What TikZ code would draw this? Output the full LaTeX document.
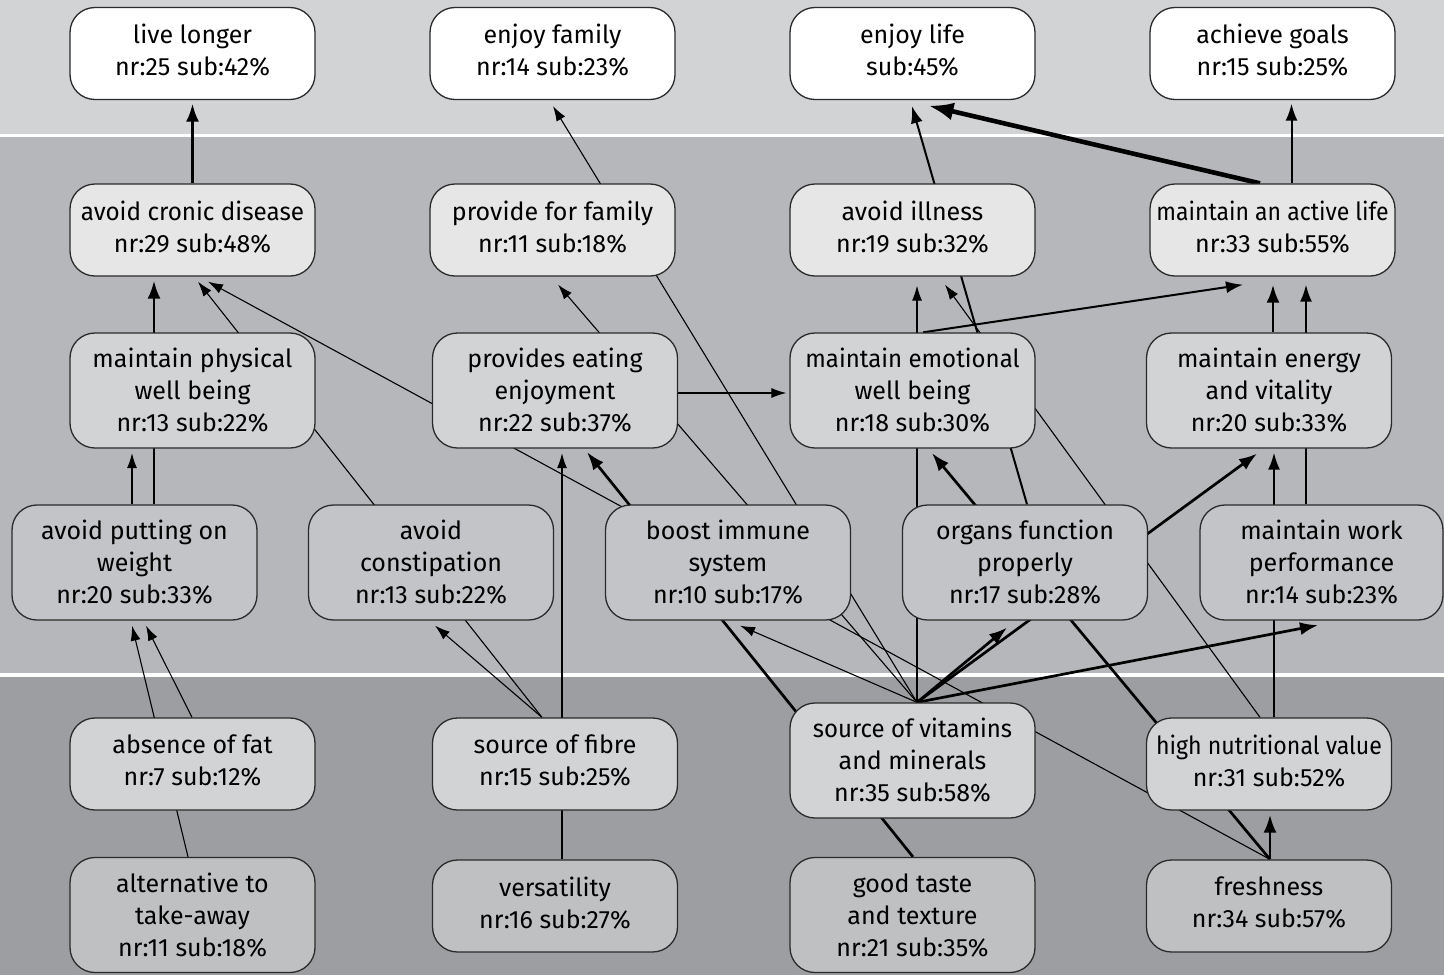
\documentclass[tikz,border=0pt]{standalone}
\usepackage{fontspec}
\setmainfont{Fira Sans}
\usetikzlibrary{arrows.meta,calc}
\definecolor{topband}{HTML}{D2D3D5}
\definecolor{midband}{HTML}{B6B7BA}
\definecolor{botband}{HTML}{9D9EA1}
\definecolor{fillA}{HTML}{FFFFFF}
\definecolor{fillB}{HTML}{E6E6E7}
\definecolor{fillC}{HTML}{D2D3D5}
\definecolor{fillD}{HTML}{C3C4C7}
\definecolor{fillE}{HTML}{D2D3D5}
\definecolor{fillF}{HTML}{BFC0C2}
\definecolor{boxline}{HTML}{2A2A2A}
\pgfdeclarelayer{edges}
\pgfsetlayers{edges,main}
\newcommand{\narrow}[2]{\scalebox{#1}[1]{#2}}
\tikzset{
  box/.style={draw=boxline, line width=0.65pt, rounded corners=12.5pt,
    minimum width=122.5pt, inner sep=0pt, align=center,
    font=\fontsize{12.5}{16}\selectfont},
  twoline/.style={box, minimum height=46pt, text depth=3.5pt},
  threeline/.style={box, minimum height=57.5pt},
  thinedge/.style={line width=0.55pt, -{Latex[length=7.5pt,width=5pt]}},
  mededge/.style={line width=1pt, -{Latex[length=8.5pt,width=6pt]}},
  thickedge/.style={line width=1.35pt, -{Latex[length=9pt,width=6.5pt]}},
  vthickedge/.style={line width=2.3pt, -{Latex[length=12.5pt,width=9pt]}}
}
\begin{document}
\begin{tikzpicture}[x=0.5pt,y=-0.5pt]
\useasboundingbox (0,0) rectangle (1444,975);
% row 1
\node[twoline, fill=fillA] (ll)  at (192.5,53.5)  {live longer\\nr:25 sub:42\%};
\node[twoline, fill=fillA] (ef)  at (552.5,53.5)  {enjoy family\\nr:14 sub:23\%};
\node[twoline, fill=fillA] (el)  at (912.5,53.5)  {enjoy life\\sub:45\%};
\node[twoline, fill=fillA] (ag)  at (1272.5,53.5) {achieve goals\\nr:15 sub:25\%};
% row 2
\node[twoline, fill=fillB] (acd) at (192.5,230)  {\narrow{0.97}{avoid cronic disease}\\nr:29 sub:48\%};
\node[twoline, fill=fillB] (pff) at (552.5,230)  {provide for family\\nr:11 sub:18\%};
\node[twoline, fill=fillB] (ai)  at (912.5,230)  {avoid illness\\nr:19 sub:32\%};
\node[twoline, fill=fillB] (mal) at (1272.5,230) {\narrow{0.92}{maintain an active life}\\nr:33 sub:55\%};
% row 3
\node[threeline, fill=fillC] (mpw) at (192.5,390.5) {maintain physical\\well being\\nr:13 sub:22\%};
\node[threeline, fill=fillC] (pee) at (555,390.5)   {provides eating\\enjoyment\\nr:22 sub:37\%};
\node[threeline, fill=fillC] (mew) at (912.5,390.5) {\narrow{0.96}{maintain emotional}\\well being\\nr:18 sub:30\%};
\node[threeline, fill=fillC] (mev) at (1269,390.5)  {maintain energy\\and vitality\\nr:20 sub:33\%};
% row 4
\node[threeline, fill=fillD] (apw) at (134.5,562.5) {avoid putting on\\weight\\nr:20 sub:33\%};
\node[threeline, fill=fillD] (ac)  at (431,562.5)   {avoid\\constipation\\nr:13 sub:22\%};
\node[threeline, fill=fillD] (bis) at (728,562.5)   {boost immune\\system\\nr:10 sub:17\%};
\node[threeline, fill=fillD] (ofp) at (1025,562.5)  {organs function\\properly\\nr:17 sub:28\%};
\node[threeline, fill=fillD, minimum width=121.5pt] (mwp) at (1321.5,562.5) {maintain work\\performance\\nr:14 sub:23\%};
% row 5
\node[twoline, fill=fillE]   (aof) at (192.5,764) {absence of fat\\nr:7 sub:12\%};
\node[twoline, fill=fillE]   (sof) at (555,764)   {source of fibre\\nr:15 sub:25\%};
\node[threeline, fill=fillE] (vit) at (912.5,760.5) {\narrow{0.96}{source of vitamins}\\and minerals\\nr:35 sub:58\%};
\node[twoline, fill=fillE]   (hnv) at (1269,764)  {\narrow{0.925}{high nutritional value}\\nr:31 sub:52\%};
% row 6
\node[threeline, fill=fillF] (alt) at (192.5,915) {alternative to\\take-away\\nr:11 sub:18\%};
\node[twoline, fill=fillF]   (ver) at (555,906)   {versatility\\nr:16 sub:27\%};
\node[threeline, fill=fillF] (gtt) at (912.5,915) {good taste\\and texture\\nr:21 sub:35\%};
\node[twoline, fill=fillF]   (fr)  at (1269,906)  {freshness\\nr:34 sub:57\%};

\begin{pgfonlayer}{edges}
\fill[white] (0,0) rectangle (1444,975);
\fill[topband] (0,0) rectangle (1444,133.5);
\fill[midband] (0,136.5) rectangle (1444,673);
\fill[botband] (0,676.5) rectangle (1444,975);
% edges
\draw[thickedge] (acd.north) -- ($(ll.south)+(0,3.5)$);
\draw[thinedge] ($(vit.north)+(4.5,0)$) -- ($(ef.south)+(0.5,6)$);
\draw[thinedge] ($(vit.north)+(4.5,0)$) -- ($(pff.south)+(5.5,8)$);
\draw[thinedge] ($(vit.north)+(4.5,0)$) -- ($(ai.south)+(4.5,9)$);
\draw[thinedge] ($(vit.north)+(4.5,0)$) -- ($(bis.south)+(12,5)$);
\draw[thickedge] ($(vit.north)+(4.5,0)$) -- ($(ofp.south)+(-18,7)$);
\draw[thickedge] ($(vit.north)+(4.5,0)$) -- ($(mev.south)+(-12,5)$);
\draw[thickedge] ($(vit.north)+(4.5,0)$) -- ($(mwp.south)+(-3.5,4.5)$);
\draw[thickedge] ($(fr.north)+(1,0)$) -- ($(hnv.south)+(1,4)$);
\draw[thickedge] ($(fr.north)+(1,0)$) -- ($(mew.south)+(19.5,4.5)$);
\draw[thinedge] ($(fr.north)+(1,0)$) -- ($(acd.south)+(15.5,5)$);
\draw[thinedge] ($(hnv.north)+(-9,0)$) -- ($(ai.south)+(32.5,8)$);
\draw[mededge] ($(hnv.north)+(5,0)$) -- ($(mev.south)+(5,4)$);
\draw[mededge] ($(mwp.north)+(-15.5,0)$) -- ($(mal.south)+(33.5,8)$);
\draw[thickedge] ($(mev.north)+(4,0)$) -- ($(mal.south)+(0.5,8)$);
\draw[mededge] ($(mew.north)+(10.5,0)$) -- ($(mal.south)+(-29.5,8)$);
\draw[mededge] ($(ofp.north)+(2,0)$) -- ($(el.south)+(-0.5,6)$);
\draw[vthickedge] ($(mal.north)+(-12.5,0)$) -- ($(el.south)+(16,5.5)$);
\draw[mededge] ($(mal.north)+(19,0)$) -- ($(ag.south)+(19,3.5)$);
\draw[thickedge] ($(apw.north)+(19.5,0)$) -- ($(acd.south)+(-38.5,4)$);
\draw[thinedge] ($(sof.north)+(-13,0)$) -- ($(acd.south)+(5.5,5)$);
\draw[thinedge] ($(sof.north)+(-13,0)$) -- ($(ac.south)+(4,5)$);
\draw[thinedge] ($(ver.north)+(7,0)$) -- ($(pee.south)+(7,4.5)$);
\draw[thickedge] ($(gtt.north)+(0.5,0)$) -- ($(pee.south)+(32,3.5)$);
\draw[thinedge] ($(pee.east)+(0,2.5)$) -- ($(mew.west)+(-3,2.5)$);
\draw[thinedge] ($(apw.north)+(-2.5,0)$) -- ($(mpw.south)+(-60.5,4.5)$);
\draw[thinedge] ($(aof.north)+(-0.5,0)$) -- ($(apw.south)+(11.5,5)$);
\draw[thinedge] ($(alt.north)+(-4.5,0)$) -- ($(apw.south)+(-2.5,5)$);
\end{pgfonlayer}
\end{tikzpicture}
\end{document}
